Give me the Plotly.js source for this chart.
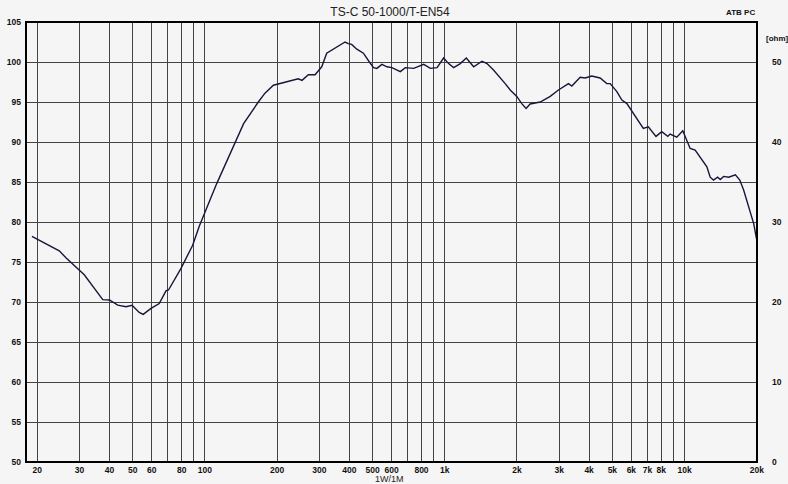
<!DOCTYPE html>
<html>
<head>
<meta charset="utf-8">
<script src="https://cdn.plot.ly/plotly-3.0.1.min.js"></script>
<style>
  html, body { margin: 0; padding: 0; background: #f5f5f5; }
  #chart { width: 788px; height: 484px; }
</style>
</head>
<body>
<div id="chart"></div>
<script>
const freq = [19, 24.7, 26.4, 31.4, 37.5, 40, 43.3, 46.9, 49.7, 53.2, 55.3, 59.6, 64.5, 68.8, 70.5, 79.5, 88.9, 94.8,
  112, 121, 134, 145, 167, 178, 193, 202, 226, 245, 254, 270, 288, 307, 322, 338, 360, 384, 396, 409, 430, 458,
  485, 505, 521, 547, 574, 602, 653, 685, 742, 817, 871, 929, 989, 1038, 1089, 1161, 1230, 1320, 1430, 1500,
  1597, 1703, 1787, 1875, 1997, 2095, 2184, 2270, 2500, 2753, 2980, 3280, 3388, 3670, 3850, 4100, 4445, 4740,
  4895, 5220, 5478, 5747, 6210, 6730, 7060, 7600, 8030, 8510, 8700, 9280, 9830, 10550, 11070, 11800, 12390,
  12790, 13200, 13730, 14090, 14550, 15270, 16290, 16990, 17630, 18500, 19420, 20000];
const spl = [78.2, 76.4, 75.5, 73.4, 70.3, 70.25, 69.6, 69.4, 69.6, 68.7, 68.45, 69.2, 69.8, 71.4, 71.5, 74.2, 77.1, 79.5,
  84.8, 87.1, 90.0, 92.3, 95.0, 96.1, 97.1, 97.25, 97.7, 97.9, 97.7, 98.4, 98.4, 99.4, 101.1, 101.5, 102.0, 102.5,
  102.3, 102.2, 101.6, 101.1, 100.0, 99.3, 99.2, 99.7, 99.4, 99.3, 98.8, 99.3, 99.2, 99.7, 99.2, 99.3, 100.5, 99.8,
  99.3, 99.8, 100.5, 99.4, 100.1, 99.8, 99.0, 98.1, 97.3, 96.5, 95.7, 94.8, 94.2, 94.75, 95.0, 95.7, 96.5, 97.3,
  97.0, 98.1, 98.0, 98.25, 98.0, 97.3, 97.3, 96.3, 95.25, 94.8, 93.2, 91.7, 91.9, 90.7, 91.3, 90.7, 91.0, 90.6,
  91.4, 89.2, 89.0, 87.75, 86.9, 85.6, 85.25, 85.6, 85.3, 85.7, 85.6, 85.9, 85.25, 84.0, 81.9, 79.8, 77.75];

const gridFreqs = [20, 30, 40, 50, 60, 70, 80, 90, 100, 200, 300, 400, 500, 600, 700, 800, 900,
  1000, 2000, 3000, 4000, 5000, 6000, 7000, 8000, 9000, 10000, 20000];
const gridLabels = ["20", "30", "40", "50", "60", "", "80", "", "100", "200", "300", "400", "500", "600", "", "800", "",
  "1k", "2k", "3k", "4k", "5k", "6k", "7k", "8k", "", "10k", "20k"];
const dbTicks = [50, 55, 60, 65, 70, 75, 80, 85, 90, 95, 100, 105];
const ohmTicks = [0, 10, 20, 30, 40, 50];

const tickFont = { family: "Liberation Sans, Arial, sans-serif", size: 8.5, color: "#111", weight: "bold" };

const traces = [
  {
    x: freq, y: spl, type: "scatter", mode: "lines",
    line: { color: "#16163a", width: 1.4 },
    hoverinfo: "skip", showlegend: false
  },
  {
    x: [freq[0], freq[0]], y: [ohmTicks[0], 55], yaxis: "y2", type: "scatter", mode: "lines",
    opacity: 0, hoverinfo: "skip", showlegend: false
  }
];

const layout = {
  width: 788, height: 484,
  margin: { l: 26, r: 31, t: 22, b: 22, pad: 0 },
  paper_bgcolor: "#f5f5f5",
  plot_bgcolor: "#f5f5f5",
  showlegend: false,
  title: {
    text: "TS-C 50-1000/T-EN54",
    font: { family: "Liberation Sans, Arial, sans-serif", size: 12, color: "#222" },
    x: 390 / 788, xanchor: "center", xref: "container",
    y: 1 - 12 / 484, yanchor: "middle", yref: "container"
  },
  xaxis: {
    type: "log",
    range: [1.254, 4.302],
    tickmode: "array", tickvals: gridFreqs, ticktext: gridLabels,
    ticks: "", showgrid: true, gridcolor: "#444", gridwidth: 1,
    zeroline: false, showline: false,
    tickfont: tickFont, tickangle: 0, ticklabelstandoff: 1
  },
  yaxis: {
    range: [50, 105],
    tickmode: "array", tickvals: dbTicks,
    ticks: "", showgrid: true, gridcolor: "#444", gridwidth: 1,
    zeroline: false, showline: false,
    tickfont: tickFont, ticklabelstandoff: 4
  },
  yaxis2: {
    range: [0, 55], overlaying: "y", side: "right",
    tickmode: "array", tickvals: ohmTicks,
    ticks: "", showgrid: false, zeroline: false, showline: false,
    tickfont: tickFont, ticklabelstandoff: 14
  },
  shapes: [
    { type: "rect", xref: "paper", yref: "paper", x0: 0, x1: 1, y0: 0, y1: 1,
      line: { color: "#000", width: 2 }, fillcolor: "rgba(0,0,0,0)" }
  ],
  annotations: [
    { text: "ATB PC", xref: "paper", yref: "paper", x: 1, y: 1 + 10 / 440, xanchor: "right", yanchor: "middle",
      showarrow: false, font: { family: "Liberation Sans, Arial, sans-serif", size: 8, color: "#111", weight: "bold" } },
    { text: "[ohm]", xref: "paper", yref: "paper", x: 1 + 20 / 731, y: 1 - 16 / 440, xanchor: "center", yanchor: "middle",
      showarrow: false, font: { family: "Liberation Sans, Arial, sans-serif", size: 8, color: "#111", weight: "bold" } },
    { text: "1W/1M", xref: "paper", yref: "paper", x: (389 - 26) / 731, y: -22 / 440, xanchor: "center", yanchor: "bottom",
      showarrow: false, borderpad: 0, yshift: -1,
      font: { family: "Liberation Sans, Arial, sans-serif", size: 9, color: "#222" } }
  ]
};

Plotly.newPlot("chart", traces, layout, { staticPlot: true, displayModeBar: false });
</script>
</body>
</html>
